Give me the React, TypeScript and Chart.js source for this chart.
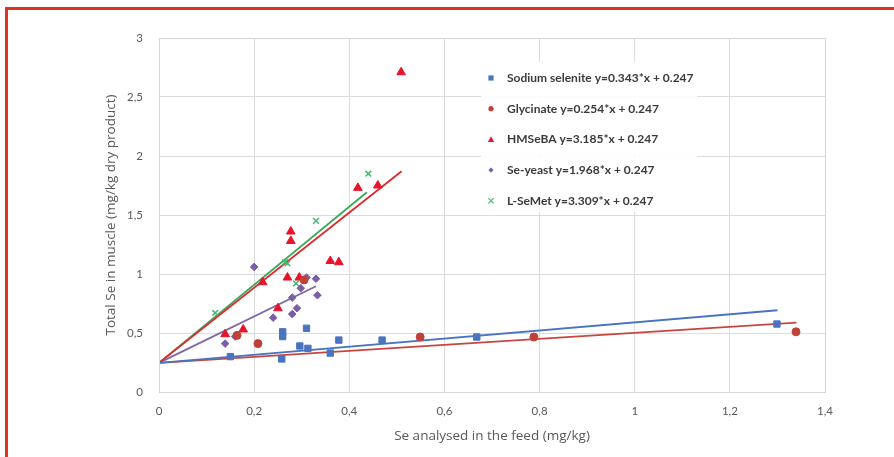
import React, { useEffect, useRef } from 'react';
import { Chart, registerables } from 'chart.js';
Chart.register(...registerables);

const seriesNames = ['Sodium selenite', 'Glycinate', 'HMSeBA', 'Se-yeast', 'L-SeMet'];
const slopes = [0.343, 0.254, 3.185, 1.968, 3.309];
const intercept = 0.247;
const lineEndX = [1.3, 1.34, 0.51, 0.33, 0.437];

const sodiumX = [0.15, 0.258, 0.26, 0.26, 0.296, 0.313, 0.31, 0.36, 0.378, 0.469, 0.668, 1.299];
const sodiumY = [0.3, 0.28, 0.47, 0.51, 0.39, 0.37, 0.54, 0.33, 0.44, 0.44, 0.466, 0.576];
const glycinateX = [0.164, 0.208, 0.305, 0.549, 0.788, 1.339];
const glycinateY = [0.48, 0.41, 0.95, 0.466, 0.466, 0.51];
const hmsebaX = [0.139, 0.177, 0.218, 0.25, 0.27, 0.277, 0.277, 0.295, 0.36, 0.378, 0.418, 0.46, 0.509];
const hmsebaY = [0.49, 0.53, 0.93, 0.71, 0.97, 1.28, 1.36, 0.97, 1.11, 1.1, 1.73, 1.75, 2.71];
const yeastX = [0.139, 0.16, 0.2, 0.24, 0.28, 0.28, 0.29, 0.298, 0.31, 0.33, 0.333];
const yeastY = [0.41, 0.47, 1.06, 0.63, 0.8, 0.66, 0.71, 0.88, 0.97, 0.96, 0.82];
const semetX = [0.118, 0.265, 0.27, 0.288, 0.33, 0.44];
const semetY = [0.67, 1.1, 1.09, 0.92, 1.45, 1.85];

const xTicks = [0, 0.2, 0.4, 0.6, 0.8, 1, 1.2, 1.4];
const yTicks = [0, 0.5, 1, 1.5, 2, 2.5, 3];

const pointColors = ['#4a74c0', '#c0403a', '#e8142a', '#7a5ea6', '#47b873'];
const lineColors = ['#4a74c0', '#c8453f', '#e2262a', '#8067a8', '#3aa85a'];
const pointStyles = ['rect', 'circle', 'triangle', 'rectRot', 'crossRot'];
const pointRadii = [4.5, 4, 5, 3.8, 4];

const xs = [sodiumX, glycinateX, hmsebaX, yeastX, semetX];
const ys = [sodiumY, glycinateY, hmsebaY, yeastY, semetY];

const fmt = (v: number) => String(Math.round(v * 10) / 10).replace('.', ',');

const legendPlugin = {
  id: 'customLegend',
  beforeDatasetsDraw(chart: any) {
    const { ctx, chartArea } = chart;
    const left = chartArea.left + 322;
    const top = chartArea.top + 24;
    ctx.save();
    ctx.fillStyle = 'rgba(255,255,255,0.9)';
    ctx.fillRect(left, top, 216, 150);
    ctx.restore();
  },
  afterDatasetsDraw(chart: any) {
    const { ctx, chartArea } = chart;
    const left = chartArea.left + 322;
    const top = chartArea.top + 24;
    ctx.save();
    seriesNames.forEach((name, i) => {
      const cy = top + 16 + i * 30.7;
      const cx = left + 10;
      ctx.fillStyle = pointColors[i];
      ctx.strokeStyle = pointColors[i];
      ctx.lineWidth = 1.2;
      const r = 2.6;
      const style = pointStyles[i];
      ctx.beginPath();
      if (style === 'rect') ctx.rect(cx - r, cy - r, 2 * r, 2 * r);
      else if (style === 'circle') ctx.arc(cx, cy, r, 0, Math.PI * 2);
      else if (style === 'triangle') { ctx.moveTo(cx, cy - r - 0.5); ctx.lineTo(cx + r + 0.5, cy + r); ctx.lineTo(cx - r - 0.5, cy + r); ctx.closePath(); }
      else if (style === 'rectRot') { ctx.moveTo(cx, cy - r); ctx.lineTo(cx + r, cy); ctx.lineTo(cx, cy + r); ctx.lineTo(cx - r, cy); ctx.closePath(); }
      else { ctx.moveTo(cx - r, cy - r); ctx.lineTo(cx + r, cy + r); ctx.moveTo(cx + r, cy - r); ctx.lineTo(cx - r, cy + r); }
      if (style === 'crossRot') ctx.stroke(); else ctx.fill();
      ctx.fillStyle = '#3a3a3a';
      ctx.font = 'bold 12px Lato';
      ctx.textBaseline = 'middle';
      ctx.textAlign = 'left';
      ctx.fillText(`${name} y=${slopes[i]}*x + ${intercept}`, left + 26, cy);
    });
    ctx.restore();
  },
};

export default function App() {
  const ref = useRef<HTMLCanvasElement | null>(null);
  useEffect(() => {
    document.body.style.margin = '0';
    const pointSets = seriesNames.map((name, i) => ({
      label: name,
      type: 'scatter' as const,
      data: xs[i].map((x, j) => ({ x, y: ys[i][j] })),
      backgroundColor: pointColors[i],
      borderColor: pointColors[i],
      borderWidth: pointStyles[i] === 'crossRot' ? 1.5 : 1,
      pointStyle: pointStyles[i],
      pointRadius: pointRadii[i],
      order: 1,
    }));
    const lineSets = seriesNames.map((name, i) => ({
      label: name + ' fit',
      type: 'line' as const,
      data: [0, lineEndX[i]].map((x) => ({ x, y: slopes[i] * x + intercept })),
      borderColor: lineColors[i],
      borderWidth: 1.8,
      pointRadius: 0,
      fill: false,
      showLine: true,
      order: 2,
    }));
    const chart = new Chart(ref.current!, {
      type: 'scatter',
      data: { datasets: [...lineSets, ...pointSets] as any },
      options: {
        animation: false,
        responsive: false,
        layout: { padding: { left: 100, right: 69, top: 38, bottom: 0 } },
        plugins: { legend: { display: false }, tooltip: { enabled: false } },
        scales: {
          x: {
            type: 'linear',
            min: 0,
            max: 1.4,
            afterBuildTicks: (axis: any) => { axis.ticks = xTicks.map((v) => ({ value: v })); },
            afterFit: (axis: any) => { axis.height = 65; },
            ticks: { callback: (v: any) => fmt(Number(v)), color: '#595959', font: { family: 'Lato', size: 11.5 }, padding: 12, maxRotation: 0 },
            grid: { color: '#dcdcdc', drawTicks: false },
            border: { display: true, color: '#d0d0d0' },
            title: { display: true, text: 'Se analysed in the feed (mg/kg)', color: '#595959', font: { family: 'Open Sans', size: 13.5 }, padding: { top: 4, bottom: 13 } },
          },
          y: {
            type: 'linear',
            min: 0,
            max: 3,
            afterBuildTicks: (axis: any) => { axis.ticks = yTicks.map((v) => ({ value: v })); },
            afterFit: (axis: any) => { axis.width = 59; },
            ticks: { callback: (v: any) => fmt(Number(v)), color: '#595959', font: { family: 'Lato', size: 11.5 }, padding: 16 },
            grid: { color: '#dcdcdc', drawTicks: false },
            border: { display: true, color: '#d0d0d0' },
            title: { display: true, text: 'Total Se in muscle (mg/kg dry product)', color: '#595959', font: { family: 'Open Sans', size: 13.5 }, padding: { top: 3, bottom: 3 } },
          },
        },
      },
      plugins: [legendPlugin, {
        id: 'frame',
        afterDraw(c: any) {
          const { ctx, chartArea } = c;
          ctx.save();
          ctx.strokeStyle = '#d6d6d6';
          ctx.lineWidth = 1;
          ctx.strokeRect(chartArea.left + 0.5, chartArea.top + 0.5, chartArea.right - chartArea.left, chartArea.bottom - chartArea.top);
          ctx.restore();
        },
      }],
    });
    return () => chart.destroy();
  }, []);
  return (
    <div style={{ position: 'relative', width: 894, height: 457, background: '#fff' }}>
      <canvas ref={ref} width={894} height={457} style={{ display: 'block' }} />
      <div style={{ position: 'absolute', left: 5, top: 7, right: 0, bottom: 0, borderTop: '3px solid #e3321c', borderLeft: '3px solid #e3321c', pointerEvents: 'none' }} />
    </div>
  );
}
